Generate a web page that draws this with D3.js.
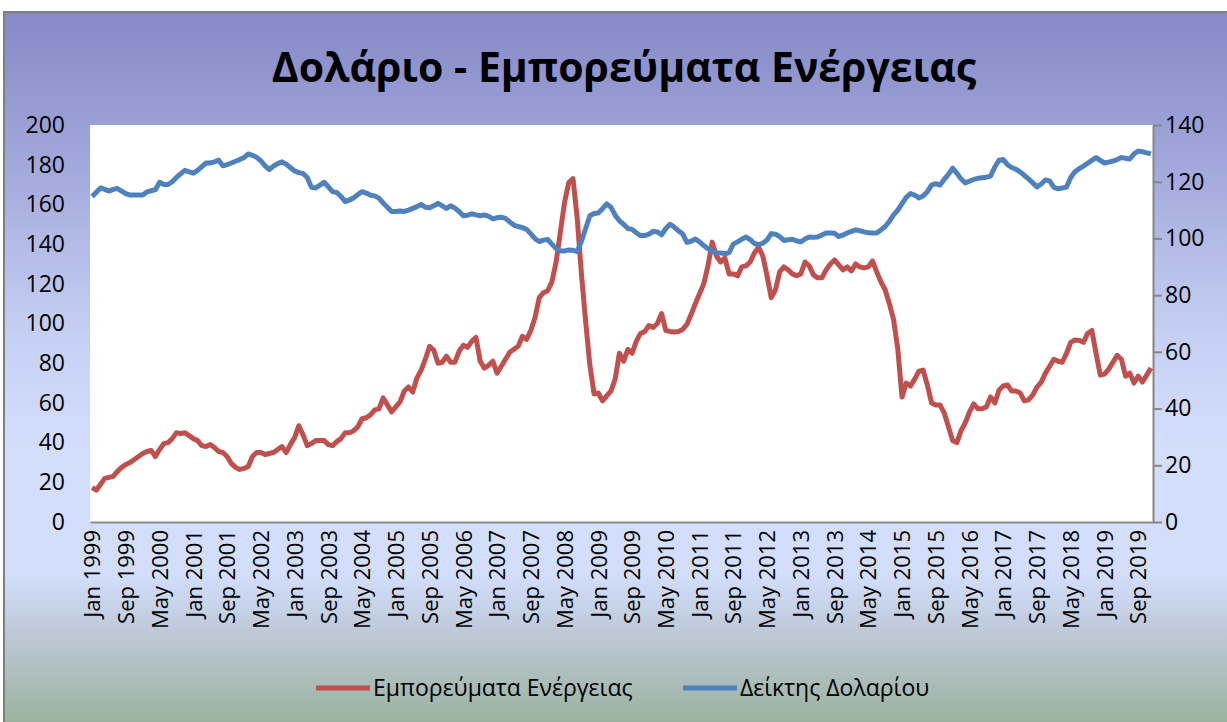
<!DOCTYPE html>
<html>
<head>
<meta charset="utf-8">
<script src="https://cdn.jsdelivr.net/npm/d3@7"></script>
<style>
  body { margin: 0; background: #fff; }
  svg { display: block; }
  text { font-family: "Open Sans", "DejaVu Sans", sans-serif; fill: #000; }
</style>
</head>
<body>
<div class="chart"></div>
<script>
// Monthly categories, Jan 1999 - Dec 2019
const monthNames = ["Jan", "Feb", "Mar", "Apr", "May", "Jun", "Jul", "Aug", "Sep", "Oct", "Nov", "Dec"];
const categories = d3.timeMonth
  .range(new Date(1999, 0, 1), new Date(2020, 0, 1))
  .map(d => `${monthNames[d.getMonth()]} ${d.getFullYear()}`);

// Labels shown on the x axis
const xTickLabels = [
  "Jan 1999", "Sep 1999", "May 2000", "Jan 2001", "Sep 2001", "May 2002", "Jan 2003", "Sep 2003",
  "May 2004", "Jan 2005", "Sep 2005", "May 2006", "Jan 2007", "Sep 2007", "May 2008", "Jan 2009",
  "Sep 2009", "May 2010", "Jan 2011", "Sep 2011", "May 2012", "Jan 2013", "Sep 2013", "May 2014",
  "Jan 2015", "Sep 2015", "May 2016", "Jan 2017", "Sep 2017", "May 2018", "Jan 2019", "Sep 2019"
];

const leftTicks = [0, 20, 40, 60, 80, 100, 120, 140, 160, 180, 200];
const rightTicks = [0, 20, 40, 60, 80, 100, 120, 140];

// Εμπορεύματα Ενέργειας (left axis)
const energy = [
  17.3, 16, 19, 22, 22.5, 23, 25.5, 27.5, 29, 30, 31.5, 33,
  34.5, 35.5, 36, 33, 36.5, 39.5, 40, 42, 45, 44.5, 45, 43.5,
  42, 41, 38.5, 38, 39, 37.5, 35.5, 35, 33, 29.5, 27.5, 26.5,
  27, 28, 33, 35, 35, 34, 34.5, 35, 36.5, 38, 35, 39,
  42.5, 48.5, 44, 38.5, 39.5, 41, 41, 41, 39, 38.5, 40.5, 42,
  45, 45, 46, 48, 52, 52.5, 54, 56.5, 57, 62.5, 59, 55.5,
  58, 60.5, 66, 68, 65.5, 72.5, 76.5, 82, 88.5, 86.5, 80, 80.5,
  83.5, 80.5, 80.5, 86, 89, 88, 91, 93, 81, 77.5, 79, 81,
  75, 78.5, 82, 85.5, 87, 88.5, 93.5, 92, 96.5, 103, 113, 115.5,
  116.5, 121, 131, 146, 161, 171, 173, 153, 125, 101, 79, 64.5,
  65, 61, 63.5, 66, 72, 85, 81, 87, 85, 91, 95, 96,
  99, 98, 100, 105, 96.5, 96, 95.7, 96, 97, 99.5, 104.5, 110,
  115, 120, 129, 141, 134, 131, 133, 125, 125, 124, 128.5, 129,
  131, 135.5, 138.5, 134, 124, 113, 117, 126, 128.5, 127, 125, 124,
  125, 131, 129, 124.5, 123, 123, 127, 130, 132, 129.5, 127, 128.5,
  126.5, 130, 128.5, 128, 128.5, 131.5, 126, 121, 117, 110, 102, 87,
  63, 70, 68.5, 72, 76, 76.5, 69, 60, 59, 59, 55, 48,
  41, 40, 46, 50, 55.5, 59.5, 57, 57, 58, 63, 60, 66.5,
  68.5, 69, 66, 66, 65, 61, 61.5, 64, 68, 70.5, 75, 78.5,
  82, 81, 80.5, 85, 90.5, 91.7, 91.5, 90.5, 95, 96.5, 85, 74,
  74.5, 77, 80.5, 84, 82, 73.5, 75, 70, 73.5, 70.5, 74, 77.6
];

// Δείκτης Δολαρίου (right axis)
const dollar = [
  114.8, 116.3, 117.8, 117.3, 116.7, 117.3, 117.6, 116.7, 115.8, 115.3, 115.3, 115.3,
  115.3, 116.4, 116.8, 117.2, 119.8, 119, 119, 120, 121.5, 122.8, 124, 123.5,
  123, 124, 125.3, 126.6, 126.6, 127, 127.6, 125.6, 126, 126.6, 127.2, 127.8,
  128.5, 129.8, 129.3, 128.6, 127.4, 125.6, 124.3, 125.5, 126.4, 127, 126.2, 125,
  123.8, 123.2, 122.9, 121.5, 118, 117.8, 118.8, 119.8, 118.2, 116.5, 116.2, 114.8,
  113, 113.6, 114.3, 115.5, 116.5, 116, 115.2, 115, 114.2, 112.5, 111, 109.5,
  109.5, 109.7, 109.5, 110, 110.6, 111.2, 112, 111, 110.8, 111.5, 112.4, 111.5,
  110.6, 111.5, 110.7, 109.5, 108, 108.2, 108.7, 108.3, 108, 108.3, 107.8, 106.9,
  107.3, 107.5, 107.1, 105.8, 104.7, 104.2, 103.8, 103.2, 101.6, 99.9, 98.9, 99.4,
  99.6, 98, 96.4, 95.6, 95.6, 95.9, 95.8, 95.4, 99, 103.5, 108, 108.8,
  109, 110.5, 112.2, 111, 108.2, 106.2, 105, 103.5, 103.2, 102, 101, 101,
  101.5, 102.5, 102.3, 101.3, 103.5, 105, 104, 102.7, 101.6, 98.6, 99, 99.8,
  98.8, 97.5, 96.4, 95.5, 94.9, 94.9, 94.6, 95, 98, 98.8, 99.7, 100.5,
  99.6, 98.2, 97.8, 98.3, 99.5, 101.7, 101.5, 100.6, 99.3, 99.5, 99.7, 99.1,
  98.8, 99.8, 100.5, 100.4, 100.5, 101.2, 101.9, 101.9, 101.8, 100.7, 101.2, 101.9,
  102.5, 103, 102.7, 102.3, 102, 101.9, 101.9, 103, 104.2, 106, 108.3, 110,
  112.3, 114.5, 115.8, 115.3, 114.3, 115, 116.5, 118.8, 119.3, 118.8, 120.8, 122.6,
  124.8, 123, 121, 119.6, 120.2, 120.8, 121.2, 121.4, 121.6, 122, 125.2, 127.6,
  127.8, 126, 125, 124.4, 123.5, 122.2, 121, 119.6, 118.2, 119.2, 120.6, 120.3,
  118, 117.5, 117.8, 118.1, 121.5, 123.5, 124.6, 125.5, 126.5, 127.5, 128.5, 127.5,
  126.6, 126.9, 127.3, 127.8, 128.5, 128.3, 128, 129.8, 130.8, 130.6, 130.2, 129.8
];

const seriesNames = ["Εμπορεύματα Ενέργειας", "Δείκτης Δολαρίου"];
const seriesColors = ["#C0504D", "#4F81BD"];

// Layout
const width = 1227, height = 722;
const plot = { left: 90, right: 1153, top: 125, bottom: 522 };

const svg = d3.select(".chart").append("svg")
  .attr("width", width)
  .attr("height", height);

// Background gradient of the chart area
const grad = svg.append("defs").append("linearGradient")
  .attr("id", "bg").attr("x1", 0).attr("y1", 0).attr("x2", 0).attr("y2", 1);
[
  [0, "#8589C6"], [0.2, "#A0A6DA"], [0.45, "#C6D0F3"], [0.6, "#D3DEFD"],
  [0.78, "#D2DEFB"], [0.86, "#BDC9D6"], [1, "#97AF99"]
].forEach(([o, c]) => grad.append("stop").attr("offset", o).attr("stop-color", c));

svg.append("rect")
  .attr("x", 4).attr("y", 12)
  .attr("width", width + 10).attr("height", height)
  .attr("fill", "url(#bg)")
  .attr("stroke", "#7f7f7f").attr("stroke-width", 2);

// Title
svg.append("text")
  .attr("x", 624).attr("y", 82)
  .attr("text-anchor", "middle")
  .style("font-size", "41px").style("font-weight", "bold")
  .text("Δολάριο - Εμπορεύματα Ενέργειας");

// Plot area
svg.append("rect")
  .attr("x", plot.left).attr("y", plot.top)
  .attr("width", plot.right - plot.left).attr("height", plot.bottom - plot.top)
  .attr("fill", "#fff");

// Scales
const x = d3.scalePoint().domain(categories).range([plot.left, plot.right]).padding(0.5);
const yLeft = d3.scaleLinear().domain([0, 200]).range([plot.bottom, plot.top]);
const yRight = d3.scaleLinear().domain([0, 140]).range([plot.bottom, plot.top]);

// Left axis (labels only)
const gl = svg.append("g")
  .attr("transform", `translate(${plot.left},0)`)
  .call(d3.axisLeft(yLeft).tickValues(leftTicks).tickSize(0).tickPadding(25));
gl.select(".domain").remove();

// Right axis
const gr = svg.append("g")
  .attr("transform", `translate(${plot.right},0)`)
  .call(d3.axisRight(yRight).tickValues(rightTicks).tickSize(9).tickSizeOuter(0).tickPadding(3));
gr.selectAll(".domain, line").attr("stroke", "#868686").attr("stroke-width", 2);

// Bottom axis with vertical labels
const gb = svg.append("g")
  .attr("transform", `translate(0,${plot.bottom})`)
  .call(d3.axisBottom(x).tickValues(xTickLabels).tickSize(0).tickSizeOuter(0));
gb.select(".domain").attr("stroke", "#8c8c8c").attr("stroke-width", 2);
gb.selectAll("text")
  .attr("transform", "rotate(-90)")
  .attr("x", -8).attr("y", 0).attr("dy", "0.35em")
  .style("text-anchor", "end");

svg.selectAll(".tick text").style("font-size", "22px");
gl.selectAll("text").style("font-size", "23px");
gr.selectAll("text").style("font-size", "23px");

// Lines
const lineLeft = d3.line().x((d, i) => x(categories[i])).y(d => yLeft(d));
const lineRight = d3.line().x((d, i) => x(categories[i])).y(d => yRight(d));

svg.append("path")
  .datum(energy)
  .attr("d", lineLeft)
  .attr("fill", "none")
  .attr("stroke", seriesColors[0])
  .attr("stroke-width", 5)
  .attr("stroke-linejoin", "round");

svg.append("path")
  .datum(dollar)
  .attr("d", lineRight)
  .attr("fill", "none")
  .attr("stroke", seriesColors[1])
  .attr("stroke-width", 5)
  .attr("stroke-linejoin", "round");

// Legend
const legendX = [316, 683];
const legend = svg.append("g").attr("class", "legend");
seriesNames.forEach((name, i) => {
  legend.append("line")
    .attr("x1", legendX[i]).attr("x2", legendX[i] + 54)
    .attr("y1", 688).attr("y2", 688)
    .attr("stroke", seriesColors[i]).attr("stroke-width", 5);
  legend.append("text")
    .attr("x", legendX[i] + 57).attr("y", 688).attr("dy", "0.35em")
    .style("font-size", "23px")
    .text(name);
});
</script>
</body>
</html>
